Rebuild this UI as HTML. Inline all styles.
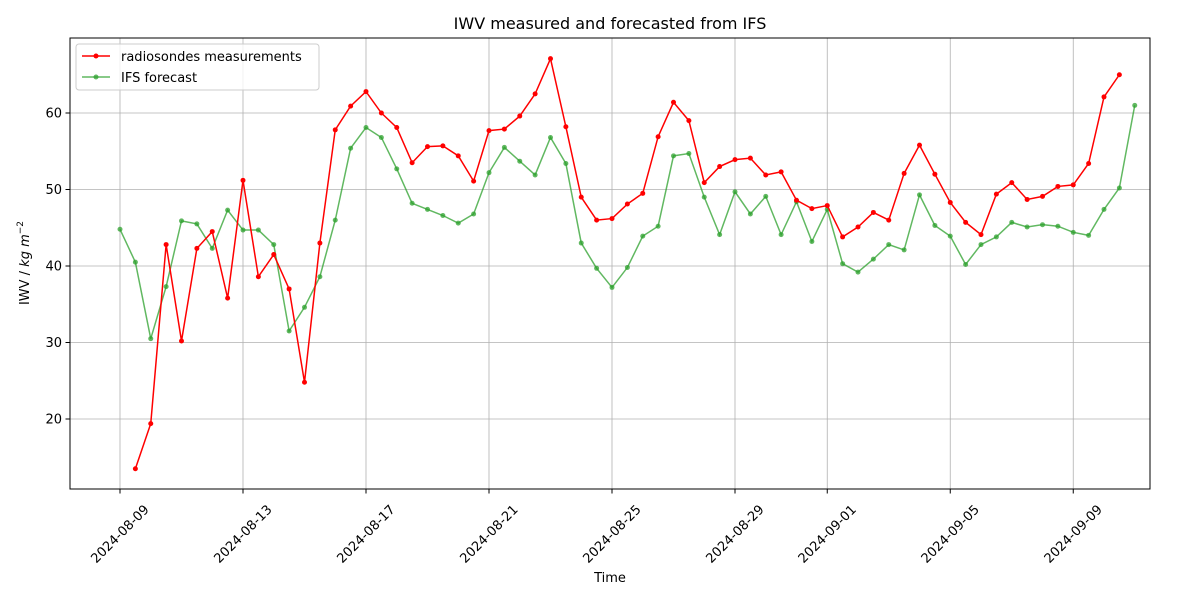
<!DOCTYPE html>
<html><head><meta charset="utf-8"><style>
body{margin:0;background:#fff;}
svg text{font-family:"DejaVu Sans","Liberation Sans",sans-serif;}
</style></head><body>
<svg id="chart" width="1200" height="600" xmlns="http://www.w3.org/2000/svg">
<rect width="1200" height="600" fill="#fff"/>
<text x="610" y="29" font-size="16" text-anchor="middle">IWV measured and forecasted from IFS</text>
<g id="grid"></g>
<g id="series"></g>
<rect x="70" y="38" width="1080" height="451" fill="none" stroke="#000" stroke-width="1"/>
<g id="ticks"></g>
<text x="610" y="582" font-size="13" text-anchor="middle">Time</text>
<text transform="translate(29,263) rotate(-90)" font-size="13" text-anchor="middle">IWV / <tspan font-style="italic">kg m</tspan><tspan font-size="9" dy="-6">−2</tspan></text>
<g>
<rect x="76" y="44" width="243" height="46" fill="#fff" fill-opacity="0.8" stroke="#ccc" rx="3"/>
<line x1="82" y1="56" x2="110" y2="56" stroke="red" stroke-width="1.5"/><circle cx="96" cy="56" r="2.5" fill="red"/>
<text x="121" y="61" font-size="13">radiosondes measurements</text>
<line x1="82" y1="77" x2="110" y2="77" stroke="#2ca02c" stroke-opacity="0.75" stroke-width="1.5"/><circle cx="96" cy="77" r="2.5" fill="#2ca02c" fill-opacity="0.75"/>
<text x="121" y="82" font-size="13">IFS forecast</text>
</g>
</svg>
<script>
const xTickLabels=["2024-08-09","2024-08-13","2024-08-17","2024-08-21","2024-08-25","2024-08-29","2024-09-01","2024-09-05","2024-09-09"];
const xTickDays=[0,4,8,12,16,20,23,27,31];
const yTicks=[20,30,40,50,60];
const ifsStartDay=0;
const ifsValues=[44.8,40.5,30.5,37.3,45.9,45.5,42.3,47.3,44.7,44.7,42.8,31.5,34.6,38.6,46,55.4,58.1,56.8,52.7,48.2,47.4,46.6,45.6,46.8,52.2,55.5,53.7,51.9,56.8,53.4,43,39.7,37.2,39.8,43.9,45.2,54.4,54.7,49,44.1,49.7,46.8,49.1,44.1,48.4,43.2,47.4,40.3,39.2,40.9,42.8,42.1,49.3,45.3,43.9,40.2,42.8,43.8,45.7,45.1,45.4,45.2,44.4,44,47.4,50.2,61];
const radioStartDay=0.5;
const radioValues=[13.5,19.4,42.8,30.2,42.3,44.5,35.8,51.2,38.6,41.5,37,24.8,43,57.8,60.9,62.8,60,58.1,53.5,55.6,55.7,54.4,51.1,57.7,57.9,59.6,62.5,67.1,58.2,49,46,46.2,48.1,49.5,56.9,61.4,59,50.9,53,53.9,54.1,51.9,52.3,48.6,47.5,47.9,43.8,45.1,47,46,52.1,55.8,52,48.3,45.7,44.1,49.4,50.9,48.7,49.1,50.4,50.6,53.4,62.1,65];
const stepDays=0.5;
const NS="http://www.w3.org/2000/svg";
function xs(d){return 120+d*30.75;}
function ys(v){return 419-(v-20)*7.65;}
function mk(tag,attrs,parent){const e=document.createElementNS(NS,tag);for(const k in attrs)e.setAttribute(k,attrs[k]);parent.appendChild(e);return e;}
const grid=document.getElementById('grid'),ticks=document.getElementById('ticks'),series=document.getElementById('series');
xTickDays.forEach((d,i)=>{
  const x=xs(d);
  const g=mk('line',{x1:x,x2:x,y1:38,y2:489,stroke:'#b0b0b0','stroke-width':0.8},grid);
  
  
  mk('line',{x1:x,x2:x,y1:489,y2:493.5,stroke:'#000'},ticks);
  const t=mk('text',{'font-size':13,'text-anchor':'middle',transform:`translate(${x+3},${537}) rotate(-45)`},ticks);
  t.textContent=xTickLabels[i];
  
  
});
yTicks.forEach(v=>{
  const y=ys(v);
  const g=mk('line',{x1:70,x2:1150,y1:y,y2:y,stroke:'#b0b0b0','stroke-width':0.8},grid);
  
  
  mk('line',{x1:65.5,x2:70,y1:y,y2:y,stroke:'#000'},ticks);
  const t=mk('text',{x:62,y:y+4.5,'font-size':13,'text-anchor':'end'},ticks);
  t.textContent=v;
  
  
});
function draw(vals,start,color,op,name){
  const pts=vals.map((v,i)=>[xs(start+i*stepDays),ys(v)]);
  const p=mk('polyline',{points:pts.map(p=>p.join(',')).join(' '),fill:'none',stroke:color,'stroke-opacity':op,'stroke-width':1.5},series);
  
  
  pts.forEach(q=>{
    const c=mk('circle',{cx:q[0],cy:q[1],r:2.5,fill:color,'fill-opacity':op},series);
    
    
  });
}
draw(ifsValues,ifsStartDay,'#2ca02c',0.75,'ifs-forecast');
draw(radioValues,radioStartDay,'red',1,'radiosondes');
</script>
</body></html>
